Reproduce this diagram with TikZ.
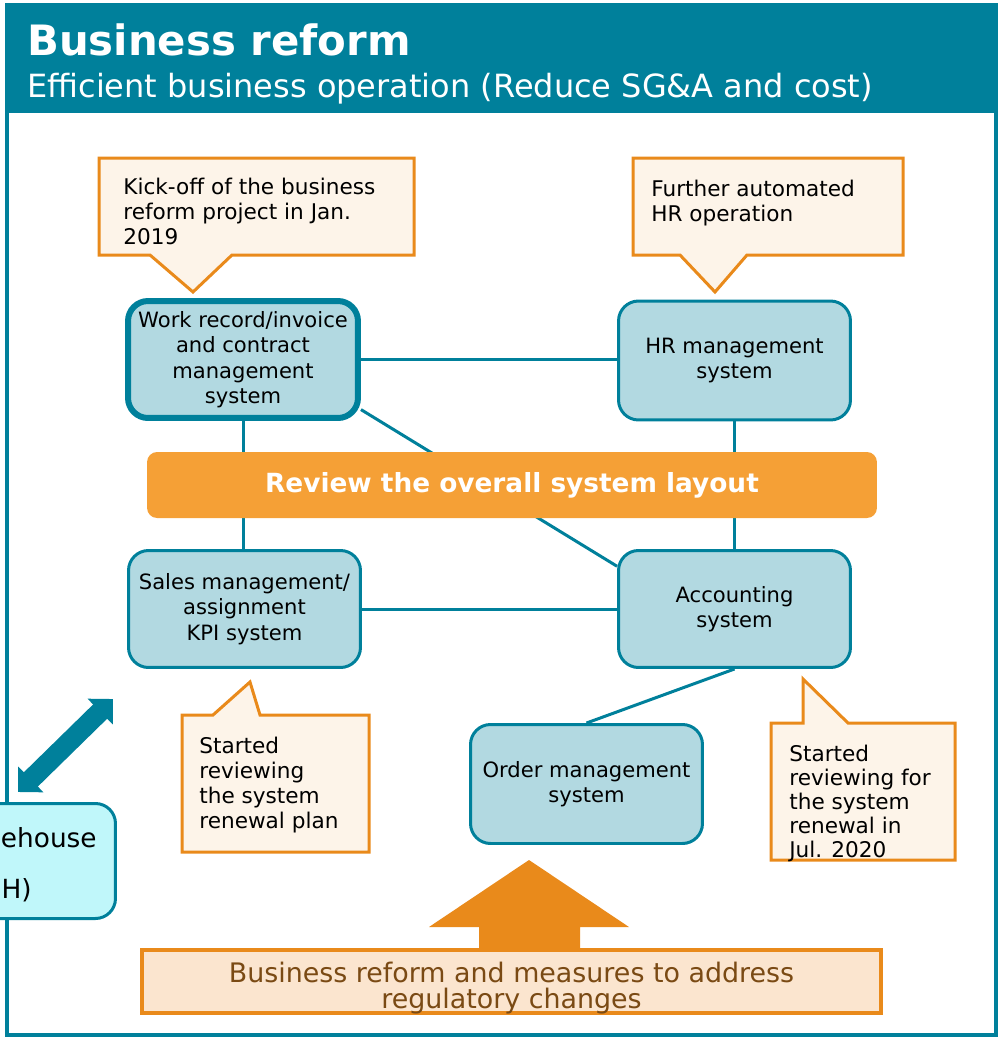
\documentclass[tikz,border=0pt]{standalone}
\usepackage{fontspec}
\setmainfont{DejaVu Sans}
\usetikzlibrary{arrows.meta}
\definecolor{frameteal}{HTML}{00809B}
\definecolor{boxblue}{HTML}{B2D9E1}
\definecolor{bandorange}{HTML}{F5A036}
\definecolor{noteorange}{HTML}{E98A1B}
\definecolor{notefill}{HTML}{FDF4E9}
\definecolor{reformfill}{HTML}{FBE5CF}
\definecolor{reformtext}{HTML}{7A4A14}
\definecolor{dwhfill}{HTML}{C0F7FA}

\tikzset{
  sysbox/.style={draw=frameteal,line width=0.06cm,fill=boxblue,rounded corners=0.4cm,
    minimum width=4.64cm,minimum height=2.38cm,align=center,inner sep=0pt,
    font=\fontsize{12}{14.5}\selectfont},
  notebox/.style={draw=noteorange,line width=0.06cm,fill=notefill},
  notetext/.style={anchor=north west,align=left,inner sep=0pt,
    font=\fontsize{12.3}{14.2}\selectfont},
  link/.style={draw=frameteal,line width=0.06cm},
}

\begin{document}
\begin{tikzpicture}[x=0.02cm,y=-0.02cm]
    \useasboundingbox (0,0) rectangle (998,1038);
    % frame and heading band
    \draw[frameteal,line width=0.08cm] (7,60) rectangle (996,1035);
    \fill[frameteal] (5,3) rectangle (998,113);
    \node[anchor=base west,inner sep=0pt,text=white,font=\bfseries\fontsize{23.8}{28}\selectfont] (title) at (27,55) {Business reform};
    \node[anchor=base west,inner sep=0pt,text=white,font=\fontsize{18.2}{20}\selectfont] (subtitle) at (27,97) {Efficient business operation (Reduce SG\&A and cost)};
    % the five systems
    \node[sysbox,line width=0.12cm,minimum width=4.6cm,minimum height=2.34cm] (work) at (243,359.5) {Work record/invoice\\and contract\\management\\system};
    \node[sysbox] (hr) at (734.5,360.5) {HR management\\system};
    \node[sysbox,minimum height=2.34cm] (sales) at (244.5,609) {Sales management/\\assignment\\KPI system};
    \node[sysbox,minimum height=2.34cm] (acct) at (734.5,609) {Accounting\\system};
    \node[sysbox] (order) at (586.5,784) {Order management\\system};
    % links between the systems
    \draw[link] (work.east) -- (work.east -| hr.west);
    \draw[link] (work.south) -- (work.south |- sales.north);
    \draw[link] (hr.south) -- (acct.north);
    \draw[link] (work.-23) -- (acct.160);
    \draw[link] (sales.east) -- (acct.west);
    \draw[link] (acct.south) -- (order.north);
    % banner across the links
    \node[fill=bandorange,rounded corners=0.2cm,minimum width=14.6cm,minimum height=1.32cm,text=white,font=\bfseries\fontsize{15}{18}\selectfont] (review) at (512,485) {Review the overall system layout};
    % callouts
    \filldraw[notebox] (99,158) -- (414,158) -- (414,255) -- (232,255) -- (193,292) -- (150,255) -- (99,255) -- cycle;
    \node[notetext] (kickoff) at (123,178) {Kick-off of the business\\reform project in Jan.\\2019};
    \filldraw[notebox] (633,158) -- (903,158) -- (903,255) -- (747,255) -- (715,292) -- (680,255) -- (633,255) -- cycle;
    \node[notetext] (hrauto) at (651,180) {Further automated\\HR operation};
    \filldraw[notebox] (182,715) -- (213,715) -- (250,682) -- (260,715) -- (369,715) -- (369,852) -- (182,852) -- cycle;
    \node[notetext] (salesnote) at (199,737) {Started\\reviewing\\the system\\renewal plan};
    \filldraw[notebox] (771,723) -- (803,723) -- (803,679) -- (848,723) -- (955,723) -- (955,860) -- (771,860) -- cycle;
    \node[notetext,font=\fontsize{12.3}{13.6}\selectfont] (acctnote) at (789,745) {Started\\reviewing for\\the system\\renewal in\\Jul. 2020};
    % push from below
    \fill[noteorange] (529,860) -- (629,927) -- (580,927) -- (580,952) -- (479,952) -- (479,927) -- (429,927) -- cycle;
    \node[draw=noteorange,line width=0.08cm,fill=reformfill,minimum width=14.78cm,minimum height=1.26cm] (reform) at (511.5,981.5) {};
    \node[align=center,inner sep=0pt,text=reformtext,font=\fontsize{15.3}{14.7}\selectfont] (reformtitle) at (511.5,988) {Business reform and measures to address\\regulatory changes};
    % warehouse box cut by the page edge
    \begin{scope}
      \clip (0,0) rectangle (998,1038);
      \node[draw=frameteal,line width=0.06cm,fill=dwhfill,rounded corners=0.4cm,minimum width=3.6cm,minimum height=2.3cm] (dwh) at (25.5,861) {};
    \end{scope}
    \node[anchor=base east,inner sep=0pt,font=\fontsize{15}{18}\selectfont] (dwhname) at (97,847) {ehouse};
    \node[anchor=base east,inner sep=0pt,font=\fontsize{15}{18}\selectfont] (dwhabbr) at (32,898) {H)};
    \coordinate (dwhtip) at (18,792);
    \coordinate (worktip) at (113,699);
    \draw[frameteal,line width=0.4cm,{Triangle[width=0.7cm,length=0.36cm]}-{Triangle[width=0.7cm,length=0.36cm]}] (dwhtip) -- (worktip);
\end{tikzpicture}
\end{document}
